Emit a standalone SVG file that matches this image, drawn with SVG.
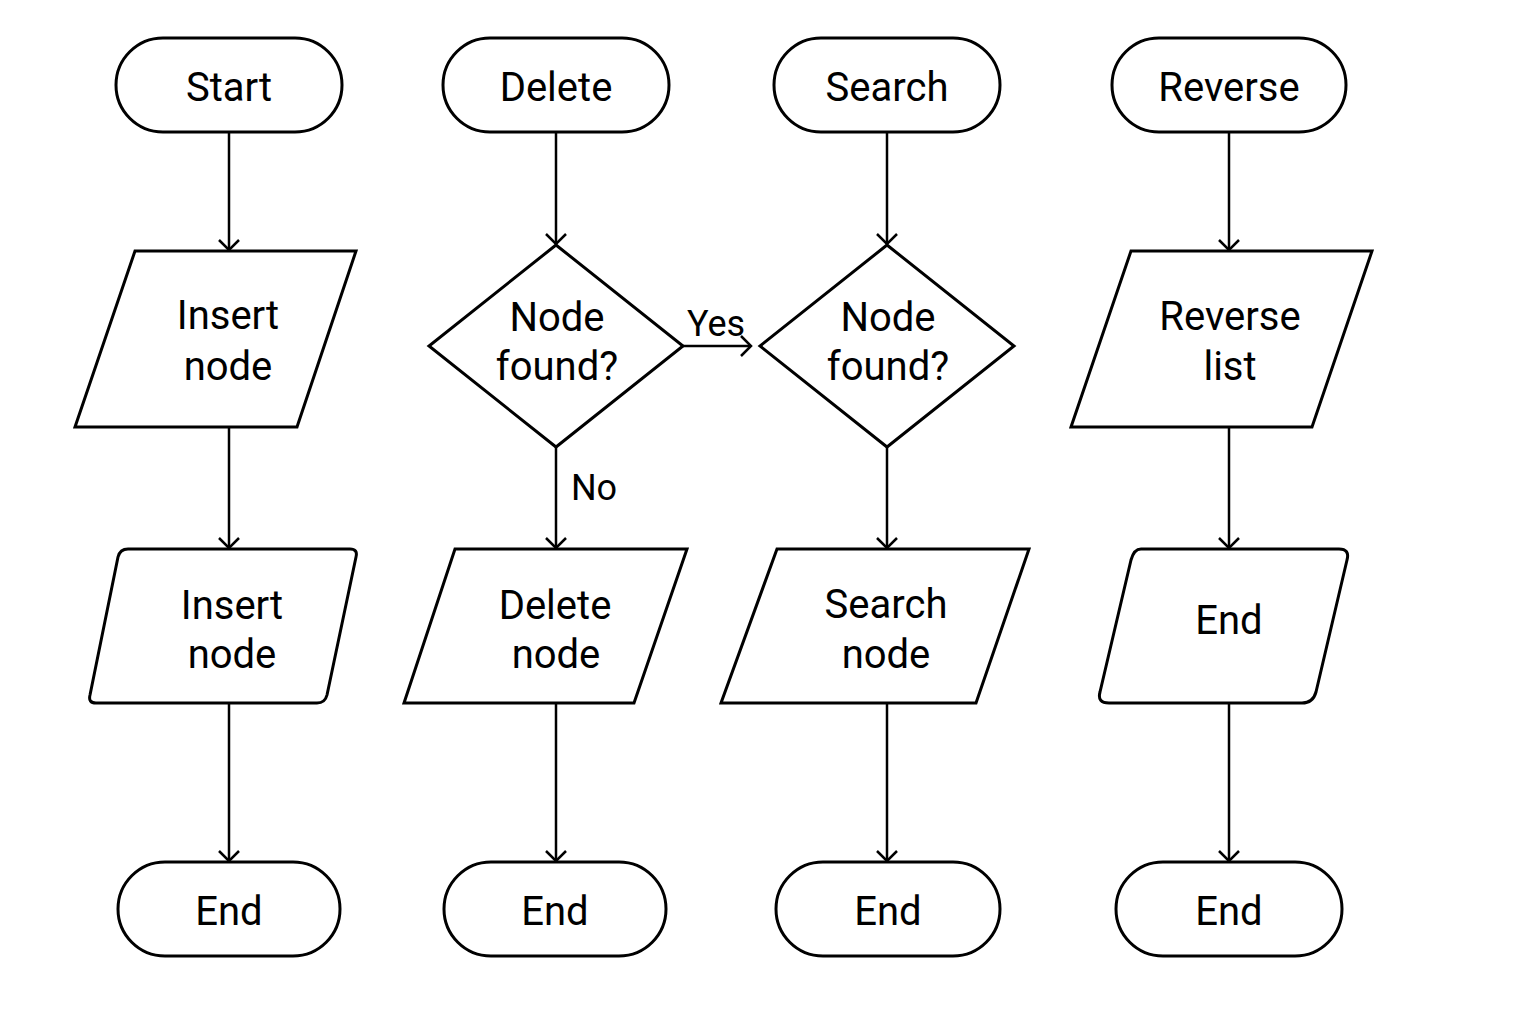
<svg xmlns="http://www.w3.org/2000/svg" width="1536" height="1024" viewBox="0 0 1536 1024">
<style>
.s{fill:#fff;stroke:#000;stroke-width:3;stroke-linejoin:miter}
.r{fill:#fff;stroke:#000;stroke-width:3;stroke-linejoin:round}
.c{fill:none;stroke:#000;stroke-width:2.5}
text{font-family:Roboto,"Liberation Sans",sans-serif;font-size:40px;fill:#000;text-anchor:middle}
</style>
<defs>
<marker id="a" markerUnits="userSpaceOnUse" markerWidth="30" markerHeight="30" refX="11" refY="11" orient="auto">
<path d="M1,1 L11,11 L1,21" fill="none" stroke="#000" stroke-width="2.5"/>
</marker>
</defs>
<rect width="1536" height="1024" fill="#fff"/>
<g id="connectors">
<line class="c" x1="229" y1="132" x2="229" y2="250" marker-end="url(#a)"/>
<line class="c" x1="229" y1="427" x2="229" y2="548" marker-end="url(#a)"/>
<line class="c" x1="229" y1="703" x2="229" y2="861" marker-end="url(#a)"/>
<line class="c" x1="556" y1="132" x2="556" y2="244" marker-end="url(#a)"/>
<line class="c" x1="556" y1="447" x2="556" y2="548" marker-end="url(#a)"/>
<line class="c" x1="556" y1="703" x2="556" y2="861" marker-end="url(#a)"/>
<line class="c" x1="683" y1="346" x2="751" y2="346" marker-end="url(#a)"/>
<line class="c" x1="887" y1="132" x2="887" y2="244" marker-end="url(#a)"/>
<line class="c" x1="887" y1="447" x2="887" y2="548" marker-end="url(#a)"/>
<line class="c" x1="887" y1="703" x2="887" y2="861" marker-end="url(#a)"/>
<line class="c" x1="1229" y1="132" x2="1229" y2="250" marker-end="url(#a)"/>
<line class="c" x1="1229" y1="427" x2="1229" y2="548" marker-end="url(#a)"/>
<line class="c" x1="1229" y1="703" x2="1229" y2="861" marker-end="url(#a)"/>
<text x="716" y="336" style="font-size:36px">Yes</text>
<text x="594" y="500" style="font-size:36px">No</text>
</g>
<g id="start"><rect class="s" x="116" y="38" width="226" height="94" rx="47"/><text x="229" y="101">Start</text></g>
<g id="delete"><rect class="s" x="443" y="38" width="226" height="94" rx="47"/><text x="556" y="101">Delete</text></g>
<g id="search"><rect class="s" x="774" y="38" width="226" height="94" rx="47"/><text x="887" y="101">Search</text></g>
<g id="reverse"><rect class="s" x="1112" y="38" width="234" height="94" rx="47"/><text x="1229" y="101">Reverse</text></g>

<g id="insert1"><polygon class="s" points="135,251 356,251 297,427 75,427"/><text x="228" y="329">Insert</text><text x="228" y="380">node</text></g>
<g id="found1"><polygon class="s" points="556,245 683,346 556,447 429,346"/><text x="557" y="331">Node</text><text x="557" y="380">found?</text></g>
<g id="found2"><polygon class="s" points="887,245 1014,346 887,447 760,346"/><text x="888" y="331">Node</text><text x="888" y="380">found?</text></g>
<g id="reverselist"><polygon class="s" points="1131,251 1372,251 1312,427 1071,427"/><text x="1230" y="330">Reverse</text><text x="1230" y="380">list</text></g>

<g id="insert2"><path class="r" d="M128,549 L350,549 Q358,549 356,557 L327,695 Q325,703 317,703 L96,703 Q88,703 90,695 L118,557 Q120,549 128,549 Z"/><text x="232" y="619">Insert</text><text x="232" y="668">node</text></g>
<g id="deletenode"><polygon class="s" points="455,549 687,549 634,703 404,703"/><text x="555" y="619">Delete</text><text x="556" y="668">node</text></g>
<g id="searchnode"><polygon class="s" points="777,549 1029,549 976,703 721,703"/><text x="886" y="618">Search</text><text x="886" y="668">node</text></g>
<g id="end4"><path class="r" d="M1141,549 L1339,549 Q1350,549 1347,560 L1316,692 Q1313,703 1302,703 L1109,703 Q1097,703 1100,692 L1131,560 Q1134,549 1141,549 Z"/><text x="1229" y="634">End</text></g>

<g id="end1"><rect class="s" x="118" y="862" width="222" height="94" rx="47"/><text x="229" y="925">End</text></g>
<g id="end2"><rect class="s" x="444" y="862" width="222" height="94" rx="47"/><text x="555" y="925">End</text></g>
<g id="end3"><rect class="s" x="776" y="862" width="224" height="94" rx="47"/><text x="888" y="925">End</text></g>
<g id="end5"><rect class="s" x="1116" y="862" width="226" height="94" rx="47"/><text x="1229" y="925">End</text></g>
</svg>
